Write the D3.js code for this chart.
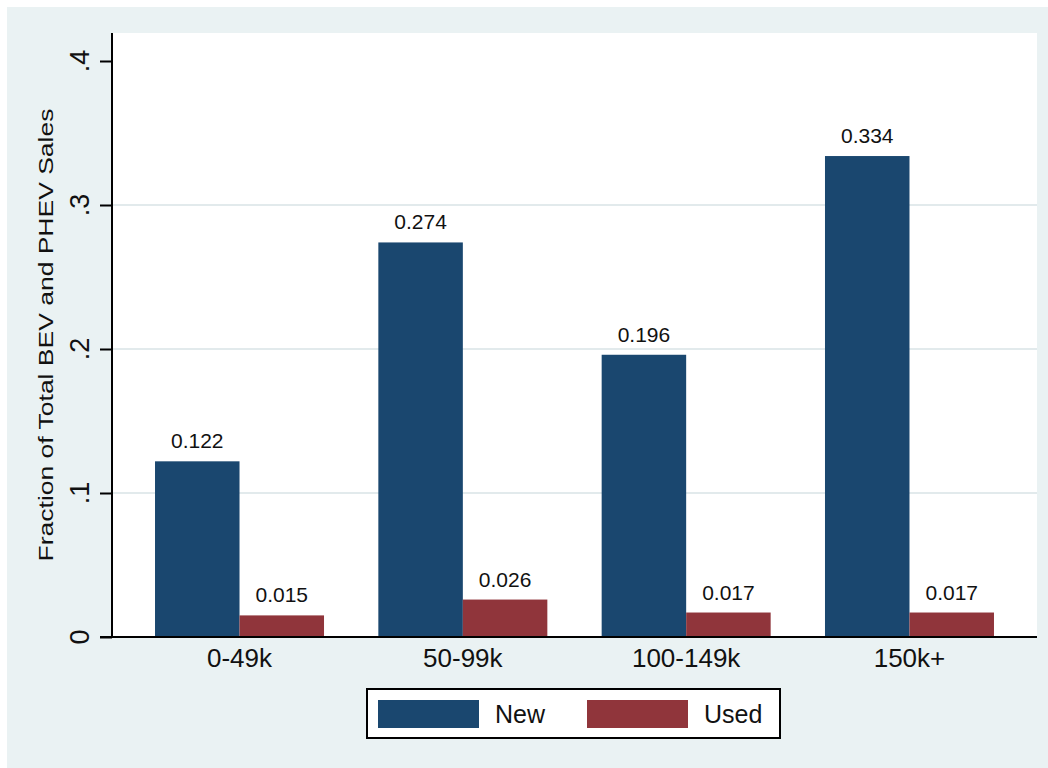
<!DOCTYPE html>
<html>
<head>
<meta charset="utf-8">
<script src="https://cdn.jsdelivr.net/npm/d3@7"></script>
<style>
  body { margin: 0; background: #ffffff; }
  text { font-family: "Liberation Sans", Arial, sans-serif; fill: #111; }
</style>
</head>
<body>
<div id="chart"></div>
<script>
// chart data
var categories = ["0-49k", "50-99k", "100-149k", "150k+"];
var seriesNames = ["New", "Used"];
var newValues = [0.122, 0.274, 0.196, 0.334];
var usedValues = [0.015, 0.026, 0.017, 0.017];
var yTicks = [0, 0.1, 0.2, 0.3, 0.4];
var yTickLabels = ["0", ".1", ".2", ".3", ".4"];
var colors = ["#1a476f", "#90353b"];

var svgWidth = 1048;
var svgHeight = 768;

var margin = { top: 33, right: 11, bottom: 131, left: 112 };
var chartWidth = svgWidth - margin.left - margin.right;
var chartHeight = svgHeight - margin.top - margin.bottom;

var svg = d3.select("#chart")
  .append("svg")
  .attr("width", svgWidth)
  .attr("height", svgHeight);

// graph region (light bluish gray)
svg.append("rect")
  .attr("x", 7).attr("y", 7)
  .attr("width", svgWidth - 7).attr("height", svgHeight - 7)
  .attr("fill", "#eaf2f3");

var chartGroup = svg.append("g")
  .attr("transform", `translate(${margin.left}, ${margin.top})`);

// plot region
chartGroup.append("rect")
  .attr("width", chartWidth)
  .attr("height", chartHeight)
  .attr("fill", "#ffffff");

// scales
var xScale = d3.scalePoint()
  .domain(categories)
  .range([0, chartWidth])
  .padding(0.571);

var barWidth = 84.5;

var yScale = d3.scaleLinear()
  .domain([0, 0.4])
  .range([chartHeight, 28]);

// gridlines
chartGroup.selectAll(".grid")
  .data(yTicks.filter(d => d > 0 && d < 0.4))
  .enter()
  .append("line")
  .attr("x1", 0)
  .attr("x2", chartWidth)
  .attr("y1", d => yScale(d))
  .attr("y2", d => yScale(d))
  .attr("stroke", "#e2eaec")
  .attr("stroke-width", 2);

// bars
var rows = categories.map((c, i) => ({ cat: c, values: [newValues[i], usedValues[i]] }));

var groups = chartGroup.selectAll(".grp")
  .data(rows)
  .enter()
  .append("g")
  .attr("transform", d => `translate(${xScale(d.cat)}, 0)`);

groups.selectAll("rect")
  .data(d => d.values)
  .enter()
  .append("rect")
  .attr("x", (d, i) => i === 0 ? -barWidth : 0)
  .attr("width", barWidth)
  .attr("y", d => yScale(d))
  .attr("height", d => yScale(0) - yScale(d))
  .attr("fill", (d, i) => colors[i]);

groups.selectAll(".lbl")
  .data(d => d.values)
  .enter()
  .append("text")
  .attr("x", (d, i) => i === 0 ? -barWidth / 2 : barWidth / 2)
  .attr("y", d => yScale(d) - 13)
  .attr("text-anchor", "middle")
  .style("font-size", "21px")
  .text(d => d3.format(".3f")(d));

// y axis
var leftAxis = d3.axisLeft(yScale)
  .tickValues(yTicks)
  .tickSize(12)
  .tickFormat("");

var yAxisG = chartGroup.append("g").call(leftAxis);
yAxisG.select(".domain").remove();
yAxisG.selectAll(".tick line").attr("stroke", "#000").attr("stroke-width", 2);
chartGroup.append("line")
  .attr("x1", 0).attr("x2", 0)
  .attr("y1", 0).attr("y2", chartHeight)
  .attr("stroke", "#000").attr("stroke-width", 2);

chartGroup.selectAll(".ylab")
  .data(yTicks)
  .enter()
  .append("text")
  .attr("transform", (d, i) => `translate(-23, ${yScale(d)}) rotate(-90)`)
  .attr("text-anchor", "middle")
  .style("font-size", "27px")
  .text((d, i) => yTickLabels[i]);

// x axis
chartGroup.append("line")
  .attr("x1", -12).attr("x2", chartWidth)
  .attr("y1", chartHeight).attr("y2", chartHeight)
  .attr("stroke", "#000").attr("stroke-width", 2);

chartGroup.selectAll(".xlab")
  .data(categories)
  .enter()
  .append("text")
  .attr("x", d => xScale(d))
  .attr("y", chartHeight + 30)
  .attr("text-anchor", "middle")
  .style("font-size", "26px")
  .text(d => d);

// y axis title (glyphs look a bit narrow in the original)
chartGroup.append("text")
  .attr("transform", `translate(${53 - margin.left}, ${chartHeight / 2}) rotate(-90) scale(1, 0.76)`)
  .attr("text-anchor", "middle")
  .style("font-size", "26.5px")
  .text("Fraction of Total BEV and PHEV Sales");

// legend
var legend = svg.append("g").attr("transform", "translate(367, 689)");
legend.append("rect")
  .attr("width", 413).attr("height", 49)
  .attr("fill", "#ffffff")
  .attr("stroke", "#000").attr("stroke-width", 2);

var items = legend.selectAll(".item")
  .data(seriesNames)
  .enter()
  .append("g")
  .attr("transform", (d, i) => `translate(${11 + i * 209}, 11)`);

items.append("rect")
  .attr("width", 101).attr("height", 28)
  .attr("fill", (d, i) => colors[i]);

items.append("text")
  .attr("x", 117)
  .attr("y", 23)
  .style("font-size", "25px")
  .text(d => d);
</script>
</body>
</html>
